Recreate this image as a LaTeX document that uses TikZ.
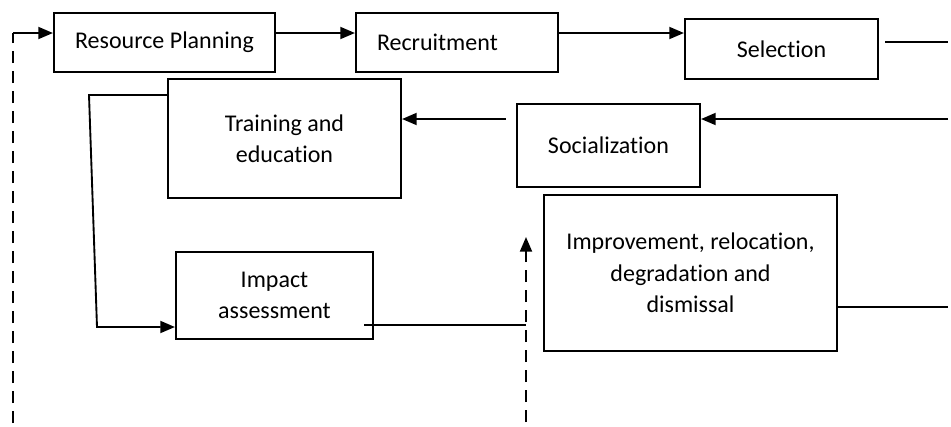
\documentclass[tikz,border=0pt]{standalone}
\usepackage{fontspec}
\setmainfont[Ligatures=NoCommon]{Carlito}
\usetikzlibrary{arrows.meta}
\begin{document}
\begin{tikzpicture}[
  x=0.75pt, y=-0.75pt,
  box/.style = {draw, line width=1.6pt, align=center, inner sep=0pt,
    font=\fontsize{18}{23.5}\selectfont},
  link/.style = {line width=1.4pt},
  arr/.style = {link, -{Triangle[length=11pt,width=9pt]}},
  dash link/.style = {dash pattern=on 9pt off 6pt}]
\useasboundingbox (0,0) rectangle (951,426);
\node[box, minimum width=165.75pt, minimum height=44.25pt] (plan) at (164.5,42.5) {Resource Planning};
\node[box, text width=120pt, inner xsep=15.75pt, align=left, minimum height=44.25pt] (recruit) at (457,42.5) {Recruitment};
\node[box, minimum width=144.75pt, minimum height=45pt] (select) at (781.5,49) {Selection};
\node[box, minimum width=137.25pt, minimum height=62.25pt] (social) at (608.5,145.5) {Socialization};
\node[box, minimum width=174.75pt, minimum height=89.25pt] (train) at (284.5,138.5) {Training and\\education};
\node[box, minimum width=147.75pt, minimum height=65.25pt] (impact) at (274.5,295.5) {Impact\\assessment};
\node[box, minimum width=219.75pt, minimum height=117pt] (improve) at (690.5,273) {Improvement, relocation,\\degradation and\\dismissal};
\coordinate (loop bottom) at (13,423);
\coordinate (loop top) at (13,33);
\coordinate (select out) at (948,42);
\coordinate (select gap) at ([xshift=4.5pt]select.east);
\coordinate (social in) at (948,119);
\coordinate (social gap) at ([xshift=-7.5pt]social.west);
\coordinate (bend top) at (89,95);
\coordinate (bend bottom) at (97,327);
\coordinate (impact gap) at ([xshift=-7.5pt]impact.east);
\coordinate (cross) at (526,325);
\coordinate (up bottom) at (526,422);
\coordinate (up top) at (526,237);
\coordinate (improve out) at (948,307);
\draw[link, dash link] (loop bottom) -- (loop top);
\draw[arr] (loop top) -- (loop top -| plan.west);
\draw[arr] (loop top -| plan.east) -- (loop top -| recruit.west);
\draw[arr] (loop top -| recruit.east) -- (loop top -| select.west);
\draw[link] (select gap |- select out) -- (select out);
\draw[arr] (social in) -- (social in -| social.east);
\draw[arr] (social gap |- social in) -- (social in -| train.east);
\draw[arr] (bend top -| train.west) -- (bend top) -- (bend bottom) -- (bend bottom -| impact.west);
\draw[link] (impact gap |- cross) -- (cross);
\draw[arr, dash link] (up bottom) -- (up top);
\draw[link] (improve out -| improve.east) -- (improve out);
\end{tikzpicture}
\end{document}
